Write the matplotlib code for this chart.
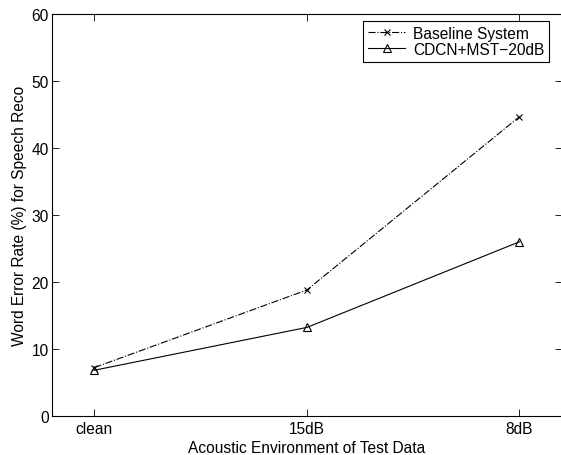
import matplotlib
matplotlib.use("Agg")
import matplotlib.pyplot as plt

plt.rcParams['font.family'] = ['Liberation Sans', 'DejaVu Sans']

categories = ["clean", "15dB", "8dB"]
baseline = [7.2, 18.8, 44.7]
cdcn = [6.8, 13.2, 26.0]
yticks = [0, 10, 20, 30, 40, 50, 60]

FS = 11.2

fig = plt.figure(figsize=(5.61, 4.56), dpi=100)
ax = fig.add_axes([52/561, 1 - 416.7/456, 510/561, (416.7 - 15.3)/456])

x = list(range(1, len(categories) + 1))
ax.plot(x, baseline, linestyle='-.', color='black', linewidth=0.8, marker='x',
        markersize=4, markeredgewidth=0.8, label='Baseline System')
ax.plot(x, cdcn, linestyle='-', color='black', linewidth=0.8, marker='^',
        markersize=6, markerfacecolor='none', markeredgewidth=0.8, label='CDCN+MST\u221220dB')

ax.set_xlim(0.8, 3.2)
ax.set_ylim(0, 60)
ax.set_xticks(x)
ax.set_xticklabels(categories)
ax.set_yticks(yticks)
ax.tick_params(direction='in', top=True, right=True, length=5, width=0.6, labelsize=FS)
ax.tick_params(axis='y', pad=2.5)
ax.tick_params(axis='x', pad=4)
for s in ax.spines.values():
    s.set_linewidth(0.8)

ax.set_xlabel('Acoustic Environment of Test Data', fontsize=FS, labelpad=2.5)
ax.set_ylabel('Word Error Rate (%) for Speech Reco', fontsize=FS, labelpad=3)

leg = ax.legend(loc='upper right', bbox_to_anchor=((549 - 52)/510, 1 - 6.7/401.4), fontsize=FS,
                frameon=True, fancybox=False, edgecolor='black', framealpha=1,
                handlelength=2.4, handletextpad=0.5, borderpad=0.3, labelspacing=0.08,
                borderaxespad=0)
leg.get_frame().set_linewidth(0.8)

fig.savefig('out.png', dpi=100)
